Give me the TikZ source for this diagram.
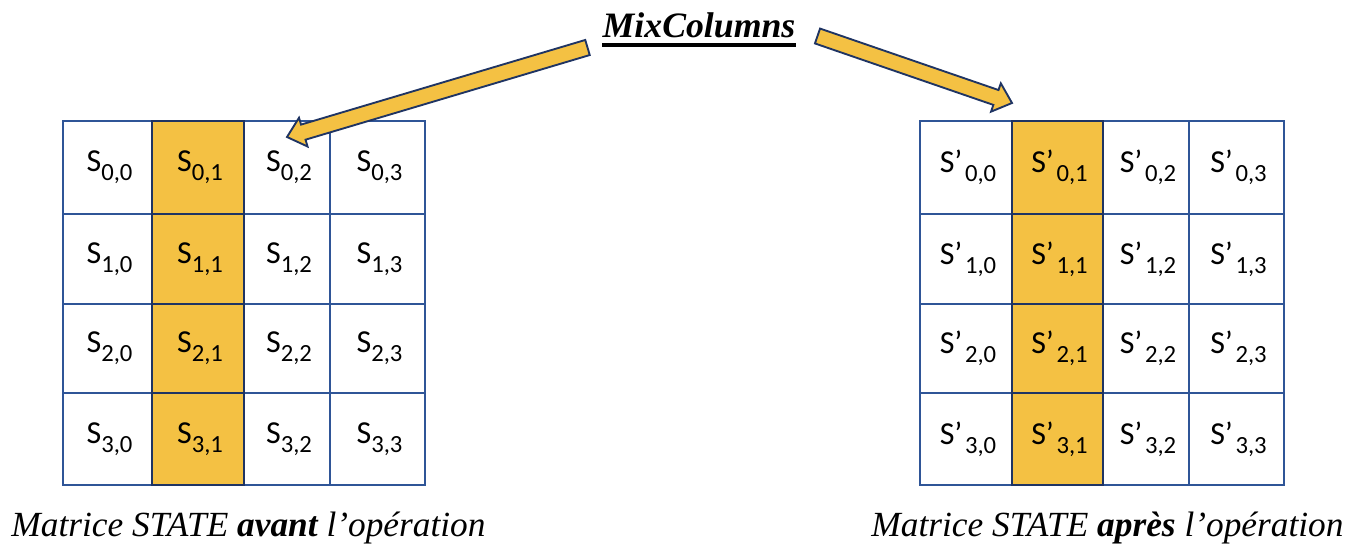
\documentclass[tikz,border=0pt]{standalone}
\usepackage{fontspec}
\setmainfont{Liberation Serif}
\newfontfamily\cellfont{Carlito}
\usetikzlibrary{calc}
\definecolor{gold}{HTML}{F4C143}
\definecolor{gridblue}{HTML}{2F5597}
\definecolor{navy}{HTML}{1F3463}
\newcommand\sbx[1]{\raisebox{-6.5pt}{\fontsize{18.5}{20}\selectfont #1}}
\newcommand\fatarrow[2]{%
  \coordinate (#1base) at ($(#2)!12.75pt!(#1)$);
  \filldraw[fill=gold, draw=navy, line width=1.4pt, line join=miter]
    ($(#1)!5.9pt!90:(#2)$) -- ($(#1base)!5.9pt!90:(#2)$) -- ($(#1base)!11.25pt!90:(#2)$)
    -- (#2) -- ($(#1base)!11.25pt!-90:(#2)$) -- ($(#1base)!5.9pt!-90:(#2)$)
    -- ($(#1)!5.9pt!-90:(#2)$) -- cycle;}
\begin{document}
\begin{tikzpicture}[x=0.75pt,y=-0.75pt,
  cell/.style={draw=gridblue, line width=1.3pt, inner sep=0pt, text=black,
    font=\cellfont\fontsize{24}{28}\selectfont},
  hot/.style={cell, fill=gold, draw=navy},
  caption/.style={font=\itshape\fontsize{26.5}{30}\selectfont, anchor=base, inner sep=0pt}]
\useasboundingbox[fill=white] (0,0) rectangle (1356,558);

% left matrix
\foreach \r/\ya/\yb in {0/121/214,1/214/304,2/304/393,3/393/485}{
  \foreach \c/\xa/\xb in {0/63/152,2/244/330,3/330/425}{
    \pgfmathsetmacro\w{(\xb-\xa)*0.75}\pgfmathsetmacro\h{(\yb-\ya)*0.75}
    \node[cell, minimum width=\w pt, minimum height=\h pt] (L\r\c) at ({(\xa+\xb)/2},{(\ya+\yb)/2}) {\hspace{3pt}S\sbx{\r,\c}};
  }
  \pgfmathsetmacro\h{(\yb-\ya)*0.75}
  \node[hot, minimum width=69pt, minimum height=\h pt] (L\r1) at (198,{(\ya+\yb)/2}) {\hspace{3pt}S\sbx{\r,1}};
}
% right matrix
\foreach \r/\ya/\yb in {0/121/214,1/214/304,2/304/393,3/393/485}{
  \foreach \c/\xa/\xb in {0/920/1012,2/1103/1189,3/1189/1284}{
    \pgfmathsetmacro\w{(\xb-\xa)*0.75}\pgfmathsetmacro\h{(\yb-\ya)*0.75}
    \node[cell, minimum width=\w pt, minimum height=\h pt] (R\r\c) at ({(\xa+\xb)/2},{(\ya+\yb)/2}) {\hspace{3pt}S’\kern2pt\sbx{\r,\c}};
  }
  \pgfmathsetmacro\h{(\yb-\ya)*0.75}
  \node[hot, minimum width=68.25pt, minimum height=\h pt] (R\r1) at (1057.5,{(\ya+\yb)/2}) {\hspace{3pt}S’\kern2pt\sbx{\r,1}};
}

% title
\node[font=\bfseries\itshape\fontsize{26.8}{30}\selectfont, anchor=base, inner sep=0pt] (title) at (699,37) {MixColumns};
\draw[line width=3.3pt] ([yshift=-6pt]title.base west) -- ([yshift=-6pt]title.base east);

% arrows
\coordinate (a1) at (587.5,47.5);
\coordinate (b1) at (287,137);
\coordinate (a2) at (817.5,36);
\coordinate (b2) at (1012,103);
\fatarrow{a1}{b1}
\fatarrow{a2}{b2}

% captions
\node[caption] (capL) at (248.5,536) {Matrice STATE \textbf{avant} l’opération};
\node[caption] (capR) at (1107.5,536) {Matrice STATE \textbf{après} l’opération};
\end{tikzpicture}
\end{document}
